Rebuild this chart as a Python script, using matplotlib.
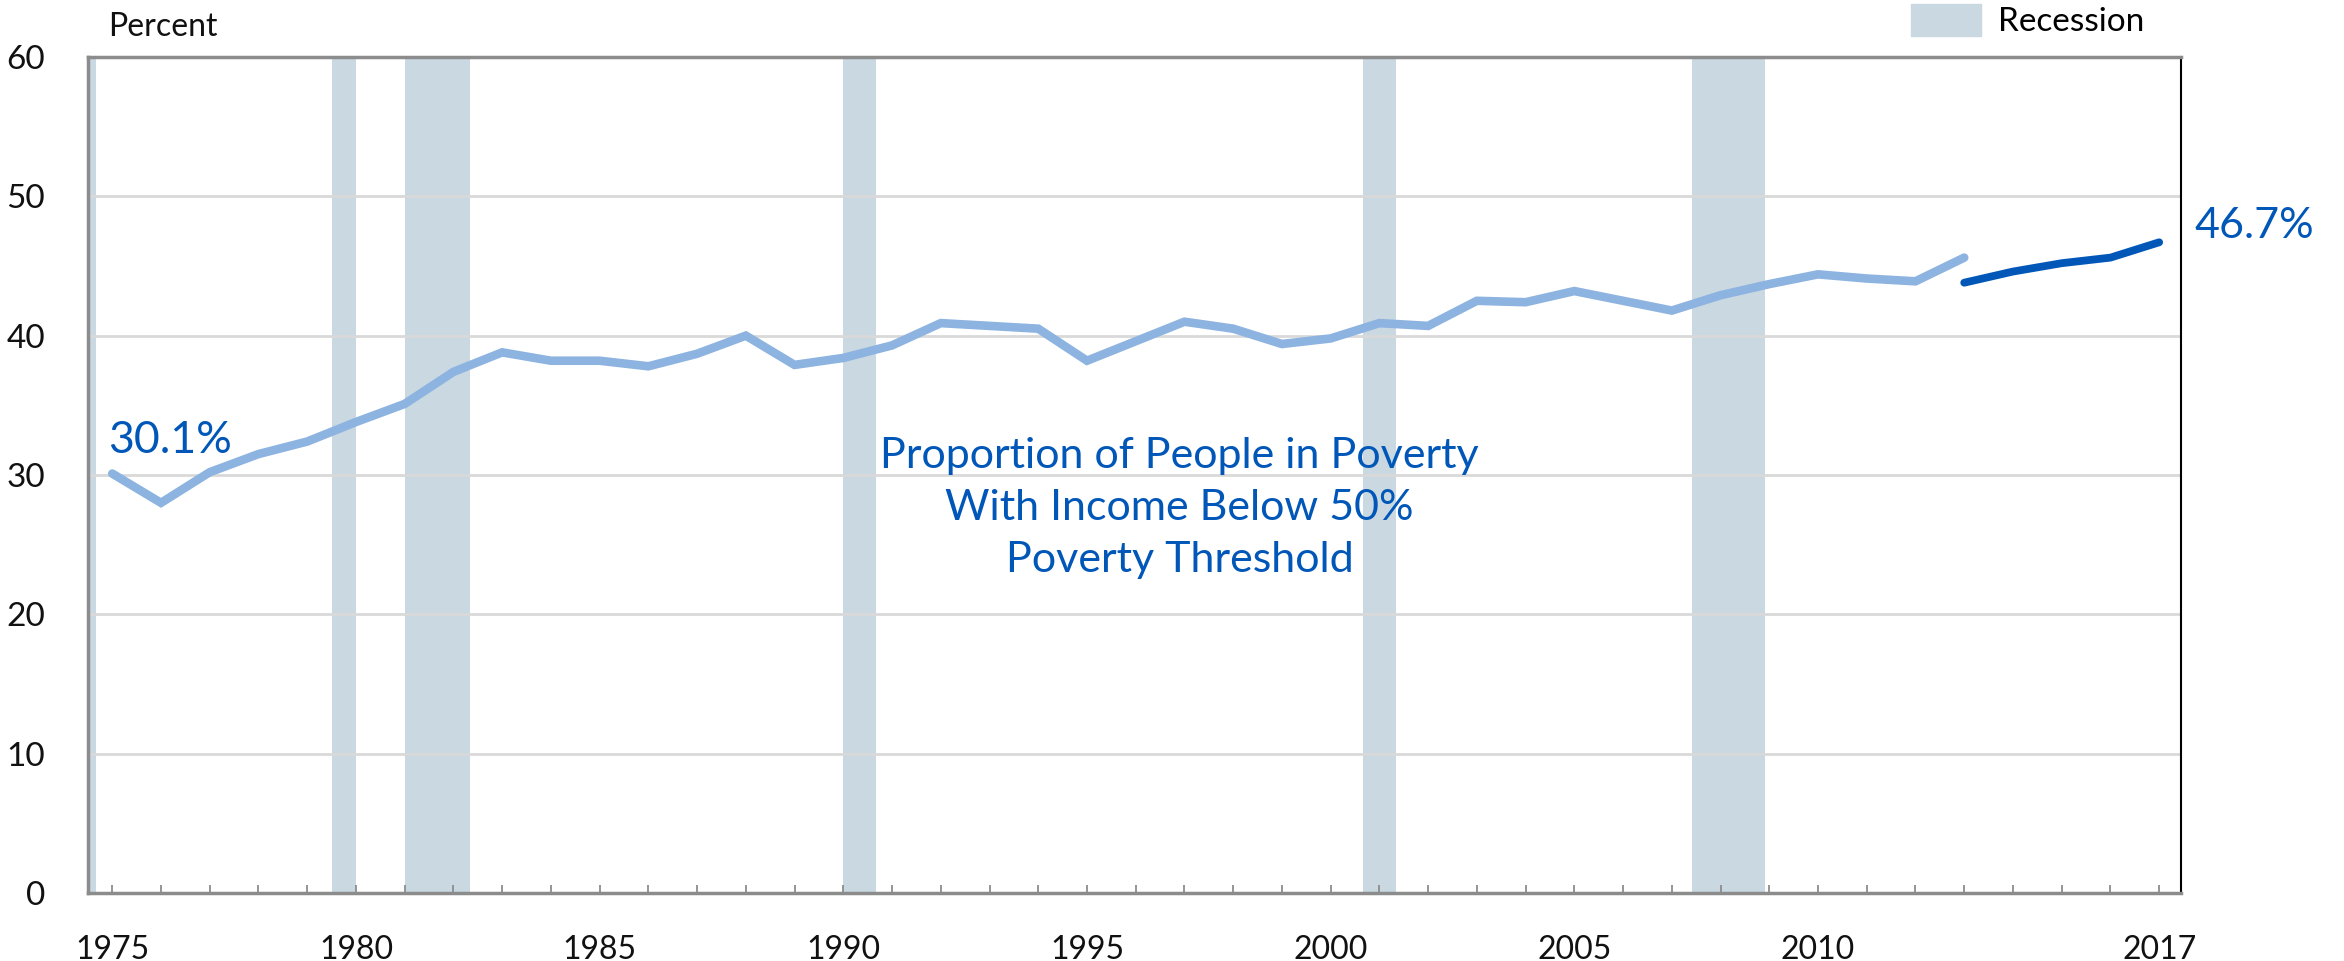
import matplotlib.pyplot as plt
from matplotlib.patches import Patch
from matplotlib.ticker import FixedLocator, FixedFormatter

# serie antiga (ate 2013) e serie redesenhada (2013-2017)
years_old = list(range(1975, 2014))
share_old = [
    30.1, 28.0, 30.2, 31.5, 32.4, 33.8, 35.1, 37.4, 38.8, 38.2,
    38.2, 37.8, 38.7, 40.0, 37.9, 38.4, 39.3, 40.9, 40.7, 40.5,
    38.2, 39.6, 41.0, 40.5, 39.4, 39.8, 40.9, 40.7, 42.5, 42.4,
    43.2, 42.5, 41.8, 42.9, 43.7, 44.4, 44.1, 43.9, 45.6,
]
years_new = [2013, 2014, 2015, 2016, 2017]
share_new = [43.8, 44.6, 45.2, 45.6, 46.7]

# recessoes (ano, mes) inicio / fim
rec_start = [(1973, 11), (1980, 1), (1981, 7), (1990, 7), (2001, 3), (2007, 12)]
rec_end = [(1975, 3), (1980, 7), (1982, 11), (1991, 3), (2001, 11), (2009, 6)]

year_labels = [1975, 1980, 1985, 1990, 1995, 2000, 2005, 2010, 2017]
y_ticks = [0, 10, 20, 30, 40, 50, 60]

light = "#8DB3E0"
dark = "#0057B8"
rec_color = "#C9D8E1"

plt.rcParams["font.family"] = ["Lato", "DejaVu Sans"]

fig = plt.figure(figsize=(23.44, 9.61), dpi=100)
ax = fig.add_axes([0.0375, 0.0708, 0.893, 0.8699])


def dec(ym):
    y, m = ym
    return y + (m - 1) / 12 - 0.5


for s, e in zip(rec_start, rec_end):
    ax.axvspan(dec(s), dec(e), color=rec_color, lw=0, zorder=0.3)

ax.plot(years_old, share_old, color=light, lw=6.2, solid_capstyle="round",
        solid_joinstyle="miter", zorder=3)
ax.plot(years_new, share_new, color=dark, lw=5.6, solid_capstyle="round",
        zorder=3)

ax.set_xlim(1974.5, 2017.45)
ax.set_ylim(0, 60)

ax.xaxis.set_major_locator(FixedLocator(list(range(1975, 2018))))
ax.xaxis.set_major_formatter(FixedFormatter(
    [str(y) if y in year_labels else "" for y in range(1975, 2018)]))
ax.tick_params(axis="x", direction="in", length=6, width=1.3, color="#8C8C8C",
               labelsize=23, pad=30, labelcolor="#111111")
ax.set_yticks(y_ticks)
ax.tick_params(axis="y", length=0, labelsize=24, pad=31, labelcolor="#111111")

ax.set_axisbelow(True)
ax.yaxis.grid(True, color="#D9D9D9", lw=2)

for side in ["left", "bottom", "top"]:
    ax.spines[side].set_color("#8C8C8C")
    ax.spines[side].set_linewidth(2.5)
ax.spines["right"].set_color("black")
ax.spines["right"].set_linewidth(1.5)

ax.text(1974.92, 32.5, "30.1%", color=dark, fontsize=32, ha="left", va="center")
ax.text(2017.72, 47.9, "46.7%", color=dark, fontsize=31, ha="left",
        va="center", clip_on=False)
ax.text(1996.9, 27.6,
        "Proportion of People in Poverty\nWith Income Below 50%\nPoverty Threshold",
        color=dark, fontsize=31, ha="center", va="center", linespacing=1.45)

fig.text(0.046, 0.972, "Percent", fontsize=23, ha="left", va="center",
         color="#111111")

fig.legend(handles=[Patch(color=rec_color, label="Recession")],
           loc="upper left", bbox_to_anchor=(0.8153, 0.996), frameon=False,
           fontsize=24, handlelength=2.1, handleheight=1.1,
           handletextpad=0.5, borderpad=0, borderaxespad=0)

fig.savefig("out.png", dpi=100)
plt.close(fig)
